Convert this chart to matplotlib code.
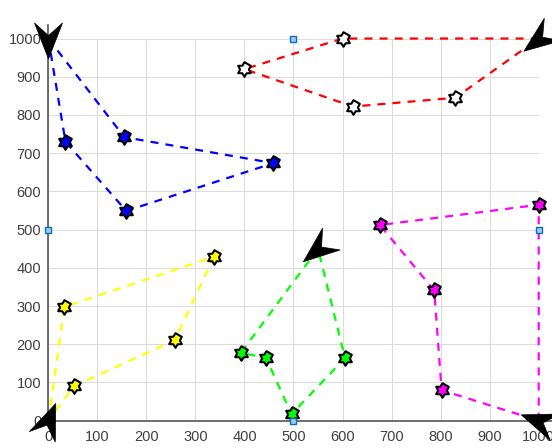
import numpy as np
import matplotlib
matplotlib.use('Agg')
import matplotlib.pyplot as plt
from matplotlib.path import Path
from matplotlib.markers import MarkerStyle
from matplotlib.transforms import Affine2D

plt.rcParams['font.family'] = ['Liberation Sans', 'DejaVu Sans']

# depots (start/end of every route) and the heading of each vehicle
depot_x = [0, 1000, 0, 550, 1000]
depot_y = [1000, 1000, 0, 450, 0]
heading = [-90, 217, 68, 219, 160]

# customers visited by each vehicle, in order
route_x = [
    [155, 459, 159, 35],
    [600, 400, 621, 830],
    [33, 338, 258, 52],
    [393, 444, 496, 605],
    [1000, 676, 787, 802],
]
route_y = [
    [742, 674, 549, 730],
    [1000, 920, 822, 845],
    [298, 429, 211, 90],
    [178, 164, 17, 164],
    [565, 512, 341, 80],
]
line_colors = ['#0000ff', '#ff0000', '#ffff00', '#00ff00', '#ff00ff']
face_colors = ['#0000ff', '#ffffff', '#ffff00', '#00ff00', '#ff00ff']

# charging stations on the border
station_x = [500, 0, 1000, 500]
station_y = [1000, 500, 500, 0]

# hexagram marker (6-point star)
ang = np.deg2rad(90 + 30 * np.arange(12))
rad = np.where(np.arange(12) % 2 == 0, 1.0, 0.6)
hexagram = Path(np.column_stack([rad * np.cos(ang), rad * np.sin(ang)]), closed=True)

# vehicle dart marker
dart = Path([(1, 0), (-0.85, 0.72), (-0.2, 0), (-0.85, -0.72), (1, 0)],
            [Path.MOVETO, Path.LINETO, Path.LINETO, Path.LINETO, Path.CLOSEPOLY])

fig = plt.figure(figsize=(5.52, 4.48), dpi=100)
ax = fig.add_axes([0.0875, 0.0609, 0.8884, 0.8531])

for i in range(len(route_x)):
    xs = [depot_x[i]] + route_x[i] + [depot_x[i]]
    ys = [depot_y[i]] + route_y[i] + [depot_y[i]]
    ax.plot(xs, ys, color=line_colors[i], lw=1.6, dashes=(3.6, 3.2), zorder=3, clip_on=False)
    ax.plot(route_x[i], route_y[i], ls='none', marker=hexagram, ms=10.5,
            mfc=face_colors[i], mec='k', mew=1.5, zorder=4, clip_on=False)

ax.plot(station_x, station_y, ls='none', marker='s', ms=5, mfc='#a9c9e8',
        mec='#0072bd', mew=1.0, zorder=5, clip_on=False)

for i in range(len(depot_x)):
    m = MarkerStyle(dart, transform=Affine2D().rotate_deg(heading[i]))
    ax.plot(depot_x[i], depot_y[i], ls='none', marker=m, ms=28, mfc='k', mec='k',
            mew=0.5, zorder=6, clip_on=False)

ax.set_xlim(0, 1000)
ax.set_ylim(0, 1000)
ax.set_xticks(np.arange(0, 1001, 100))
ax.set_yticks(np.arange(0, 1001, 100))
ax.grid(True, color='#dcdcdc', lw=0.8)
ax.set_axisbelow(True)
for s in ['top', 'right']:
    ax.spines[s].set_visible(False)
for s in ['left', 'bottom']:
    ax.spines[s].set_color('#555555')
    ax.spines[s].set_linewidth(1.2)
    ax.spines[s].set_bounds(0, 1035)
ax.tick_params(axis='x', direction='in', length=0, pad=7, labelsize=10.5, labelcolor='#404040')
ax.tick_params(axis='y', direction='in', length=0, pad=5, labelsize=10.5, labelcolor='#404040')

plt.savefig('out.png', dpi=100)
